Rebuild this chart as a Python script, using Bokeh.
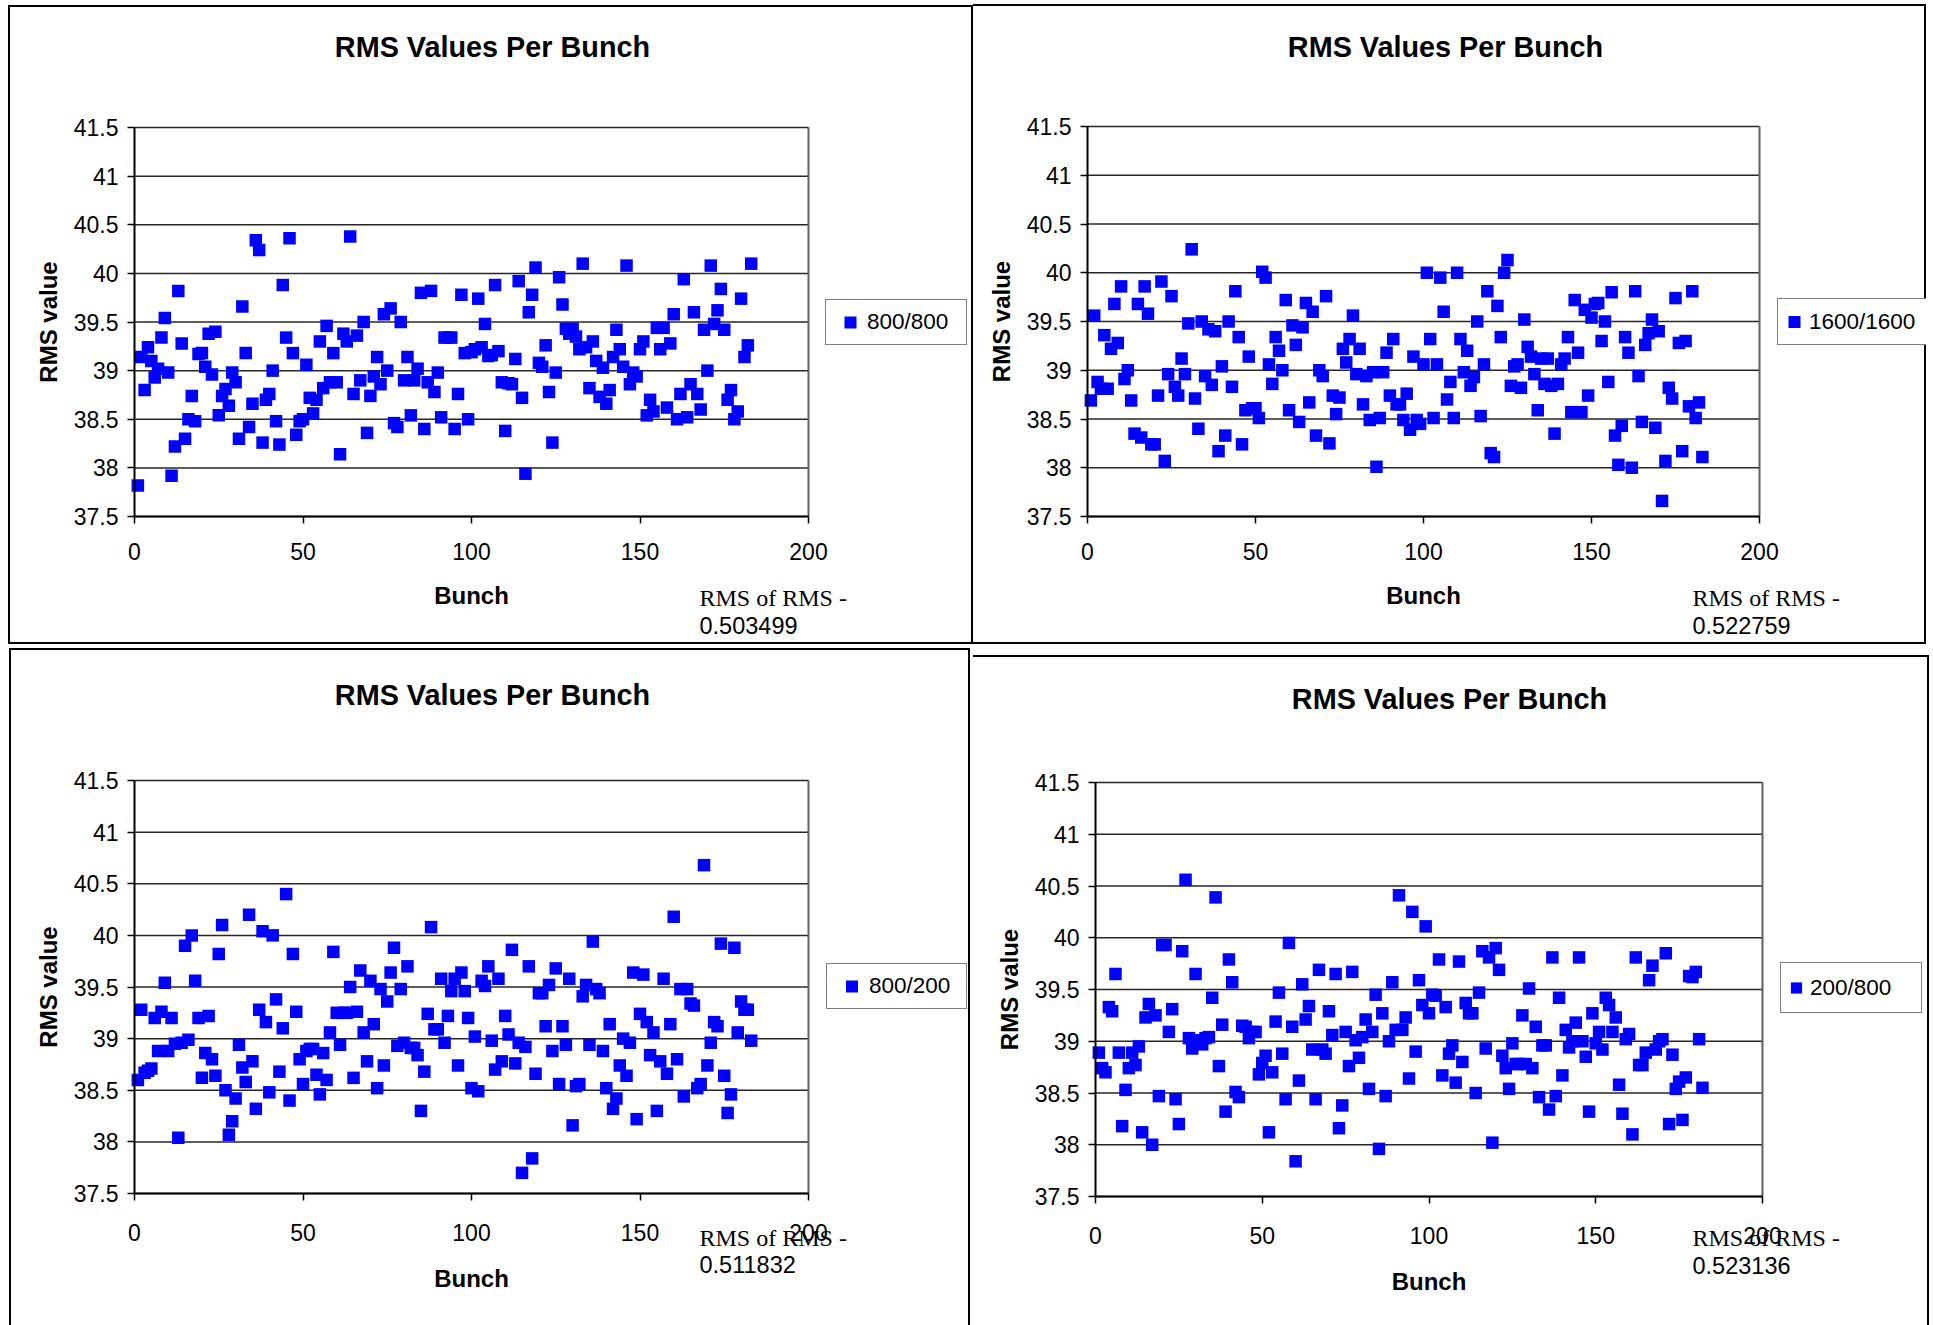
from bokeh.plotting import figure
from bokeh.layouts import row, column
from bokeh.models import Range1d, FixedTicker, Label, Legend, LegendItem
from bokeh.embed import file_html
from bokeh.resources import INLINE

TITLE = "RMS Values Per Bunch"
X_LABEL = "Bunch"
Y_LABEL = "RMS value"
Y_TICKS = [37.5, 38, 38.5, 39, 39.5, 40, 40.5, 41, 41.5]
Y_TICK_LABELS = ["37.5", "38", "38.5", "39", "39.5", "40", "40.5", "41", "41.5"]
X_TICKS = [0, 50, 100, 150, 200]

series_names = ["800/800", "1600/1600", "800/200", "200/800"]
rms_of_rms = ["0.503499", "0.522759", "0.511832", "0.523136"]

rms_800_800 = [
    37.82, 39.14, 38.80, 39.24, 39.10, 38.93, 39.02, 39.34, 39.54, 38.98,
    37.92, 38.22, 39.82, 39.28, 38.30, 38.50, 38.74, 38.48, 39.17, 39.18,
    39.04, 39.38, 38.96, 39.40, 38.54, 38.74, 38.81, 38.64, 38.98, 38.88,
    38.30, 39.66, 39.18, 38.42, 38.66, 40.34, 40.24, 38.26, 38.70, 38.76,
    39.00, 38.48, 38.24, 39.88, 39.34, 40.36, 39.18, 38.34, 38.48, 38.50,
    39.06, 38.72, 38.56, 38.70, 39.30, 38.82, 39.46, 38.88, 39.18, 38.88,
    38.14, 39.38, 39.30, 40.38, 38.76, 39.36, 38.90, 39.50, 38.36, 38.74,
    38.94, 39.14, 38.86, 39.58, 39.00, 39.64, 38.46, 38.42, 39.50, 38.90,
    39.14, 38.54, 38.90, 39.02, 39.80, 38.40, 38.88, 39.82, 38.78, 38.98,
    38.52, 39.34, 39.34, 39.34, 38.40, 38.76, 39.78, 39.18, 38.50, 39.19,
    39.22, 39.74, 39.24, 39.48, 39.15, 39.16, 39.88, 39.20, 38.88, 38.38,
    38.87, 38.86, 39.12, 39.92, 38.72, 37.94, 39.60, 39.78, 40.06, 39.08,
    39.04, 39.26, 38.78, 38.26, 38.98, 39.96, 39.68, 39.43, 39.38, 39.43,
    39.35, 39.22, 40.10, 39.24, 38.82, 39.30, 39.10, 38.73, 39.03, 38.66,
    38.80, 39.14, 39.42, 39.22, 39.04, 40.08, 38.86, 38.98, 38.94, 39.22,
    39.30, 38.54, 38.70, 38.58, 39.44, 39.22, 39.44, 38.62, 39.28, 39.58,
    38.50, 38.76, 39.94, 38.52, 38.86, 39.60, 38.76, 38.60, 39.42, 39.00,
    40.08, 39.48, 39.62, 39.84, 39.42, 38.70, 38.80, 38.50, 38.58, 39.74,
    39.14, 39.26, 40.10,
]

rms_1600_1600 = [
    38.69, 39.56, 38.88, 38.81, 39.36, 38.81, 39.22, 39.68, 39.28, 39.86,
    38.91, 39.00, 38.69, 38.35, 39.68, 38.31, 39.86, 39.58, 38.24, 38.24,
    38.74, 39.91, 38.07, 38.96, 39.76, 38.83, 38.74, 39.12, 38.96, 39.48,
    40.24, 38.71, 38.40, 39.50, 38.94, 39.42, 38.85, 39.40, 38.17, 39.04,
    38.33, 39.50, 38.83, 39.81, 39.34, 38.24, 38.59, 39.14, 38.61, 38.61,
    38.51, 40.01, 39.95, 39.06, 38.86, 39.34, 39.20, 39.00, 39.72, 38.59,
    39.46, 39.26, 38.47, 39.44, 39.69, 38.67, 39.60, 38.33, 39.00, 38.94,
    39.76, 38.25, 38.74, 38.55, 38.72, 39.22, 39.08, 39.32, 39.56, 38.96,
    39.22, 38.65, 38.94, 38.49, 38.98, 38.01, 38.51, 38.98, 39.18, 38.74,
    39.32, 38.65, 38.65, 38.49, 38.76, 38.39, 39.14, 38.49, 38.45, 39.06,
    40.00, 39.32, 38.51,
    39.06, 39.95, 39.60, 38.70, 38.88, 38.51, 40.00, 39.32, 38.98, 39.20,
    38.84, 38.93, 39.50, 38.53, 39.06, 39.81, 38.15, 38.11, 39.66, 39.34,
    40.00, 40.13, 38.84, 39.04, 39.06, 38.82, 39.52, 39.24, 39.14, 38.96,
    38.59, 39.12, 38.86, 39.12, 38.84, 38.35, 38.86, 39.06, 39.12, 39.34,
    38.57, 39.72, 39.18, 38.57, 39.62, 38.74, 39.54, 39.68, 39.69, 39.30,
    39.50, 38.88, 39.80, 38.33, 38.03, 38.43, 39.34, 39.18, 38.00, 39.81,
    38.94, 38.47, 39.26, 39.38, 39.52, 38.41, 39.40, 37.66, 38.07, 38.82,
    38.71, 39.74, 39.28, 38.17, 39.30, 38.63, 39.81, 38.51, 38.67, 38.11,
]

rms_800_200 = [
    38.60, 39.28, 38.67, 38.69, 38.71, 39.20, 38.88, 39.26, 39.54, 38.88,
    39.20, 38.95, 38.04, 38.96, 39.90, 38.99, 40.00, 39.56, 39.20, 38.62,
    38.86, 39.22, 38.80, 38.64, 39.82, 40.10, 38.50, 38.07, 38.20, 38.42,
    38.94, 38.72, 38.58, 40.20, 38.78, 38.32, 39.28, 40.04, 39.16, 38.48,
    40.00, 39.38, 38.68, 39.10, 40.40, 38.40, 39.82, 39.26, 38.80, 38.56,
    38.88, 38.90, 38.90, 38.65, 38.46, 38.86, 38.60, 39.06, 39.84, 39.25,
    38.94, 39.25, 39.25, 39.50, 38.62, 39.26, 39.66, 39.06, 38.78, 39.56,
    39.14, 38.52, 39.48, 38.74, 39.36, 39.64, 39.88, 38.93, 39.48, 38.96,
    39.70, 38.91, 38.91, 38.84, 38.30, 38.68, 39.24, 40.08, 39.09, 39.09,
    39.58, 38.96, 39.22, 39.46, 39.58, 38.74, 39.64, 39.46, 39.20, 38.52,
    39.02, 38.49, 39.56,
    39.51, 39.70, 38.98, 38.70, 39.58, 38.78, 39.22, 39.04, 39.86, 38.76,
    38.96, 37.70, 38.92, 39.70, 37.84, 38.66, 39.44, 39.44, 39.12, 39.52,
    38.88, 39.68, 38.56, 39.12, 38.94, 39.58, 38.16, 38.54, 38.56, 39.41,
    39.52, 38.94, 39.94, 39.48, 39.44, 38.88, 38.52, 39.14, 38.32, 38.42,
    38.74, 39.00, 38.64, 38.96, 39.64, 38.22, 39.24, 39.62, 39.16, 38.84,
    39.06, 38.30, 38.78, 39.58, 38.66, 39.14, 40.18, 38.80, 39.48, 38.44,
    39.48, 39.34, 39.32, 38.52, 38.56, 40.68, 38.74, 38.96, 39.16, 39.12,
    39.92, 38.64, 38.28, 38.46, 39.88, 39.06, 39.36, 39.28, 39.28, 38.98,
]

rms_200_800 = [
    38.89, 38.74, 38.70, 39.33, 39.29, 39.65, 38.89, 38.18, 38.53, 38.74,
    38.89, 38.77, 38.95, 38.12, 39.23, 39.36, 38.00, 39.25, 38.47, 39.93,
    39.93, 39.09, 39.31, 38.44, 38.20, 39.87, 40.56, 39.03, 38.93, 39.65,
    39.01, 38.97, 39.03, 39.04, 39.42, 40.39, 38.76, 39.16, 38.32, 39.79,
    39.57, 38.51, 38.46, 39.15, 39.14, 39.03, 39.09, 39.09, 38.68, 38.79,
    38.86, 38.12, 38.70, 39.19, 39.47, 38.88, 38.44, 39.95, 39.14, 37.84,
    38.62, 39.55, 39.21, 39.34, 38.92, 38.44, 39.69, 38.92, 38.88, 39.29,
    39.06, 39.65, 38.16, 38.38, 39.09, 38.76, 39.67, 39.01, 38.84, 39.04,
    39.21, 38.54, 39.09, 39.45, 37.96, 39.27, 38.47, 39.00, 39.57, 39.11,
    40.41, 39.11, 39.23, 38.64, 40.25, 38.90, 39.59, 39.35, 40.11, 39.27,
    39.45, 39.44, 39.79, 38.67,
    39.33, 38.88, 38.96, 38.60, 39.77, 38.80, 39.37, 39.27, 39.27, 38.50,
    39.47, 39.87, 38.93, 39.81, 38.02, 39.90, 39.69, 38.86, 38.74, 38.54,
    38.98, 38.78, 38.78, 39.25, 38.78, 39.51, 38.74, 39.14, 38.46, 38.96,
    38.96, 38.34, 39.81, 38.47, 39.42, 38.67, 39.11, 38.94, 39.00, 39.18,
    39.81, 39.00, 38.85, 38.32, 39.27, 38.98, 39.09, 38.92, 39.42, 39.35,
    39.09, 39.23, 38.58, 38.30, 39.02, 39.07, 38.10, 39.81, 38.77, 38.77,
    38.89, 39.59, 39.73, 38.92, 39.00, 39.02, 39.85, 38.20, 38.87, 38.54,
    38.61, 38.24, 38.65, 39.63, 39.62, 39.67, 39.02, 38.55,
]

all_series = [rms_800_800, rms_1600_1600, rms_800_200, rms_200_800]

SANS = "Liberation Sans"
SERIF = "Liberation Serif"


def box_lines(lines):
    """CSS background lines (x, y, w, h) drawing the chart-box border."""
    n = len(lines)
    return {
        "background-image": ", ".join(["linear-gradient(#000, #000)"] * n),
        "background-position": ", ".join(f"{x}px {y}px" for x, y, w, h in lines),
        "background-size": ", ".join(f"{w}px {h}px" for x, y, w, h in lines),
        "background-repeat": "no-repeat",
    }


# Canvas geometry of each chart box: (width, height, plot-area left/right/top/bottom margins)
# Label positions are canvas pixels measured from the box's bottom-left corner.
GEOM = [
    dict(size=(973, 644, 134, 165, 127, 128), title=(492, 598), rms=(699, 47, 19),
         legend=(825, 299), pad=7, gw=34, gh=30, lw=92, xstd=19, xlstd=19,
         lines=[(8, 5, 2, 639), (8, 5, 965, 2), (971, 5, 2, 639), (8, 642, 965, 2)]),
    dict(size=(953, 644, 114, 167, 126, 128), title=(472, 598), rms=(719, 47, 19),
         legend=(804, 299), pad=1, gw=30, gh=43, lw=116, xstd=19, xlstd=19,
         lines=[(0, 4, 953, 2), (951, 4, 2, 640), (0, 642, 953, 2)]),
    dict(size=(973, 677, 134, 165, 132, 132), title=(492, 631), rms=(699, 88, 61),
         legend=(826, 316), pad=7, gw=35, gh=30, lw=90, xstd=23, xlstd=21,
         lines=[(9, 0, 961, 2), (9, 0, 2, 677), (968, 0, 2, 677)]),
    dict(size=(957, 677, 122, 168, 134, 129), title=(476, 627), rms=(719, 88, 60),
         legend=(807, 312), pad=1, gw=28, gh=47, lw=110, xstd=23, xlstd=21,
         lines=[(0, 7, 956, 2), (954, 7, 2, 670)]),
]


def make_panel(ys, name, rms_val, g):
    W, H, L, R, T, B = g["size"]
    x0, x1 = X_TICKS[0], X_TICKS[-1]
    y0, y1 = Y_TICKS[0], Y_TICKS[-1]
    fw, fh = W - L - R, H - T - B
    sx, sy = (x1 - x0) / fw, (y1 - y0) / fh
    bunch = list(range(1, len(ys) + 1))

    p = figure(width=W, height=H, min_border=0, title=None,
               x_range=Range1d(x0 - L * sx, x1 + R * sx),
               y_range=Range1d(y0 - B * sy, y1 + T * sy),
               output_backend="svg", toolbar_location=None,
               background_fill_alpha=0, border_fill_alpha=0,
               outline_line_color=None,
               styles=box_lines(g["lines"]))
    p.grid.visible = False

    # plot-area horizontal lines and right border
    p.segment(x0=[x0] * len(Y_TICKS), x1=[x1] * len(Y_TICKS), y0=Y_TICKS, y1=Y_TICKS,
              line_color="#262626", line_width=1.5)
    p.segment(x0=[x1], x1=[x1], y0=[y0], y1=[y1], line_color="#606060", line_width=2)

    p.xaxis.fixed_location = y0
    p.yaxis.fixed_location = x0
    p.xaxis.bounds = (x0, x1)
    p.yaxis.bounds = (y0, y1)
    p.xaxis.ticker = FixedTicker(ticks=X_TICKS)
    p.yaxis.ticker = FixedTicker(ticks=Y_TICKS)
    p.yaxis.major_label_overrides = dict(zip(Y_TICKS, Y_TICK_LABELS))
    p.xaxis.axis_label = X_LABEL
    p.yaxis.axis_label = Y_LABEL
    for ax in (p.xaxis[0], p.yaxis[0]):
        ax.axis_line_color = "black"
        ax.axis_line_width = 2
        ax.major_tick_line_color = "black"
        ax.major_tick_line_width = 1.5
        ax.major_tick_out = 7
        ax.major_tick_in = 0
        ax.minor_tick_line_color = None
        ax.major_label_text_font = SANS
        ax.major_label_text_font_size = "23px"
        ax.major_label_text_color = "black"
        ax.axis_label_text_font = SANS
        ax.axis_label_text_font_style = "bold"
        ax.axis_label_text_font_size = "24px"
        ax.axis_label_text_color = "black"
    p.xaxis.major_label_standoff = g["xstd"]
    p.xaxis.axis_label_standoff = g["xlstd"]
    p.yaxis.major_label_standoff = 9
    p.yaxis.axis_label_standoff = 9

    r = p.scatter(x=bunch, y=ys, marker="square", size=12.5,
                  fill_color="#0000FF", line_color=None)

    tx, ty = g["title"]
    p.add_layout(Label(x=tx, y=ty, x_units="screen", y_units="screen", text=TITLE,
                       text_align="center", text_baseline="middle", text_font=SANS,
                       text_font_style="bold", text_font_size="28.8px", text_color="black"))
    rx, ry1, ry2 = g["rms"]
    p.add_layout(Label(x=rx, y=ry1, x_units="screen", y_units="screen", text="RMS of RMS -",
                       text_align="left", text_baseline="middle", text_font=SERIF,
                       text_font_size="24px", text_color="black"))
    p.add_layout(Label(x=rx, y=ry2, x_units="screen", y_units="screen", text=rms_val,
                       text_align="left", text_baseline="middle", text_font=SANS,
                       text_font_size="23.5px", text_color="black"))

    legend = Legend(items=[LegendItem(label=name, renderers=[r])], location=g["legend"],
                    padding=g["pad"], glyph_width=g["gw"], glyph_height=g["gh"],
                    label_standoff=0, label_width=g["lw"],
                    margin=0, spacing=0,
                    border_line_color="black", border_line_width=1.5,
                    background_fill_color="white", background_fill_alpha=1.0,
                    label_text_font=SANS, label_text_font_size="22.5px",
                    label_text_color="black")
    p.add_layout(legend)
    return p


panels = [make_panel(ys, nm, rv, g) for ys, nm, rv, g in zip(all_series, series_names, rms_of_rms, GEOM)]
layout = column(row(panels[0], panels[1]), row(panels[2], panels[3]), spacing=4)

open("out.html", "w").write(file_html(layout, INLINE, "RMS Values Per Bunch"))
